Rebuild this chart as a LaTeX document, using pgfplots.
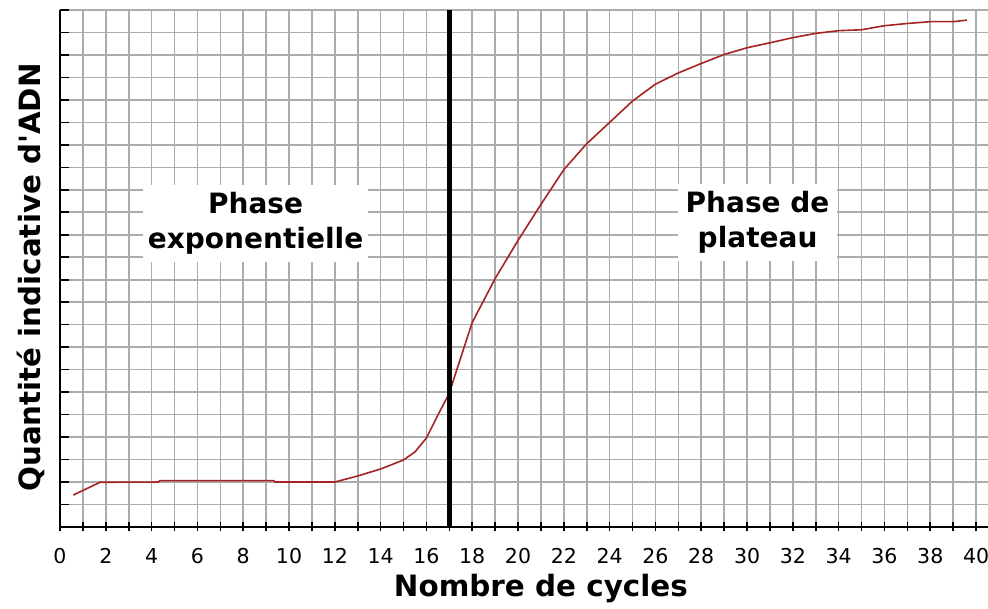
\documentclass[border=0pt]{standalone}
\usepackage{fontspec}
\setmainfont{DejaVu Sans}
\usepackage{pgfplots}
\pgfplotsset{compat=1.18}
\definecolor{gridgray}{RGB}{172,172,172}
\definecolor{curvered}{RGB}{165,35,35}
\begin{document}
\begin{tikzpicture}
\begin{axis}[
  scale only axis, width=927.5pt, height=517pt,
  xmin=0, xmax=40.5, ymin=0, ymax=23,
  axis x line=bottom, axis y line=left,
  axis line style={line width=2pt, black, -},
  xtick={0,2,...,40}, minor x tick num=1,
  ytick={0,1,...,23}, yticklabels={},
  grid=both,
  major grid style={gridgray, line width=1.6pt},
  minor grid style={gridgray, line width=1.6pt},
  tick align=inside,
  major tick length=9pt, minor tick length=9pt,
  xtick style={black, line width=1.6pt, yshift=-4.5pt},
  ytick style={black, line width=1.6pt},
  /pgf/number format/assume math mode=true,
  xticklabel style={font=\fontsize{20.5}{20.5}\selectfont, anchor=north, inner sep=0pt, yshift=-21pt},
  xlabel={Nombre de cycles},
  ylabel={Quantité indicative d\textquotesingle ADN},
  xlabel style={font=\fontsize{29.4}{30}\selectfont\bfseries, at={(axis cs:21,0)}, anchor=base, yshift=-70pt},
  ylabel style={font=\fontsize{29.3}{30}\selectfont\bfseries, at={(axis cs:-0.873,11.1)}, anchor=base},
  clip=false,
]
\addplot[curvered, line width=1.6pt] coordinates {
 (0.58,1.42) (1.75,1.99) (4.3,2.0) (4.35,2.06) (9.33,2.06) (9.4,2.0) (12,2.0)
 (13,2.27) (14,2.58) (15,2.98) (15.5,3.34) (16,3.96) (16.5,4.98) (17,5.95)
 (17.2,6.6) (18,9.1) (19,11.05) (20,12.75) (21,14.35) (22,15.9) (23,17.05)
 (24,18.0) (25,18.95) (26,19.7) (27,20.2) (28,20.62) (29,21.02) (30,21.32)
 (31,21.54) (32,21.77) (33,21.96) (34,22.08) (35,22.12) (36,22.3) (37,22.4)
 (38,22.48) (39,22.48) (39.6,22.55)
};
\addplot[black, line width=5.5pt] coordinates {(17,0) (17,23)};
\node[fill=white, align=center, inner sep=0pt, minimum width=225pt, minimum height=77pt,
  font=\fontsize{28}{35}\selectfont\bfseries] at (axis cs:8.54,13.5) {Phase\\exponentielle};
\node[fill=white, align=center, inner sep=0pt, minimum width=159pt, minimum height=77pt,
  font=\fontsize{28}{35}\selectfont\bfseries] at (axis cs:30.46,13.55) {Phase de\\plateau};
\end{axis}
\pgfresetboundingbox
\path[use as bounding box] ([shift={(-60pt,-82pt)}]current axis.south west) rectangle ([shift={(0.5pt,10pt)}]current axis.north east);
\end{tikzpicture}
\end{document}
